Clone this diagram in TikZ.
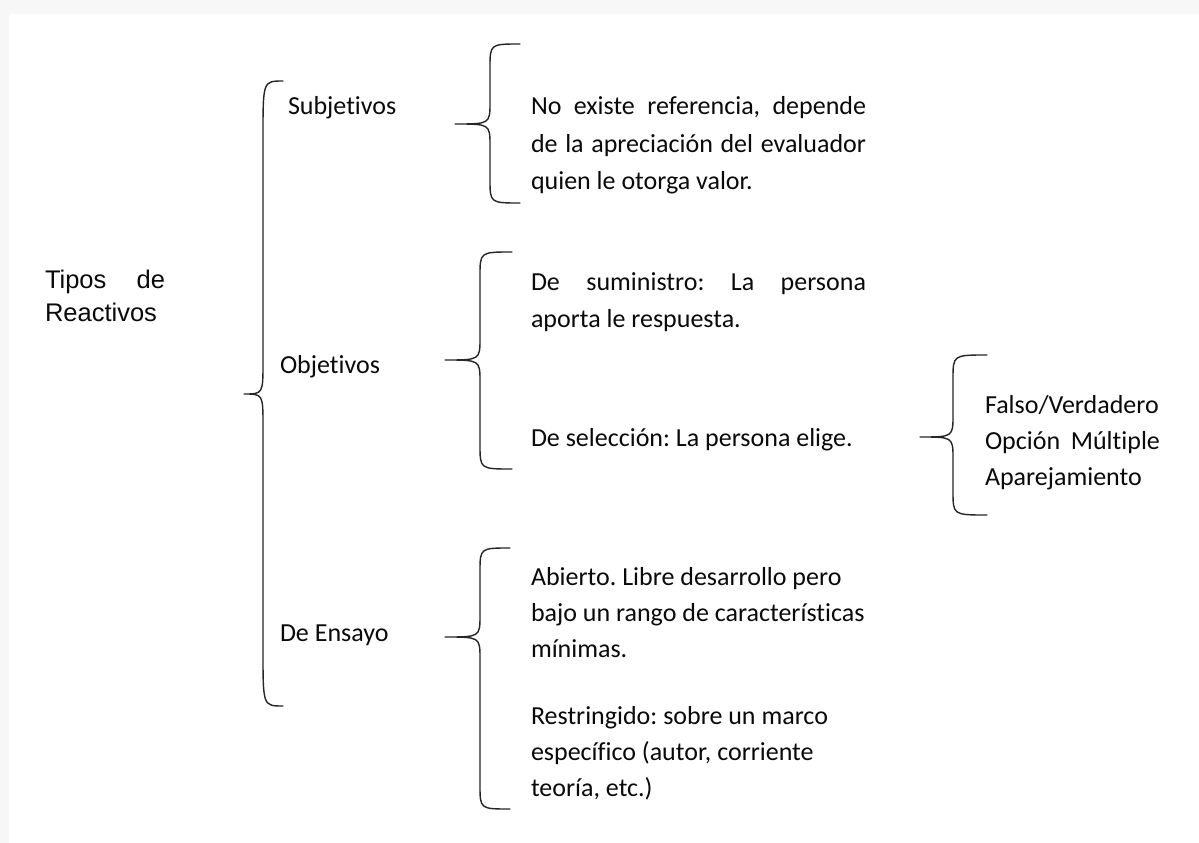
\documentclass[tikz,border=0pt]{standalone}
\usepackage{fontspec}
\setmainfont{Carlito}[Ligatures={NoCommon,NoContextual}]
\newfontfamily\arialfont{Liberation Sans}
\frenchspacing
\usetikzlibrary{calc}
\definecolor{pagegray}{HTML}{F7F7F7}
\definecolor{inkcol}{HTML}{0A0A0A}
\definecolor{bracecol}{HTML}{262626}
\tikzset{
  txt/.style={anchor=base west, inner sep=0pt, outer sep=0pt, text=inkcol,
    font=\fontsize{26}{30}\selectfont},
  arialtxt/.style={txt, font=\arialfont\fontsize{25.5}{30}\selectfont},
  bracestyle/.style={draw=bracecol, line width=1.4pt, line cap=round, line join=round}
}
% #1 name, #2 x tip, #3 x vertical, #4 x ends, #5 y top, #6 y tip, #7 y bottom, #8 end radius, #9 tip radius
\newcommand\mybrace[9]{%
  \coordinate (#1-top) at (#4,#5);
  \coordinate (#1-tip) at (#2,#6);
  \coordinate (#1-bot) at (#4,#7);
  \draw[bracestyle] (#1-top) .. controls (#3,#5) .. (#3,#5+#8)
     -- (#3,#6-#9) .. controls (#3,#6) .. (#1-tip)
     .. controls (#3,#6) .. (#3,#6+#9)
     -- (#3,#7-#8) .. controls (#3,#7) .. (#1-bot);
}
\begin{document}
\begin{tikzpicture}[x=1pt,y=-1pt]
\fill[pagegray] (0,0) rectangle (1199,843);
\fill[white] (9,14) rectangle (1199,843);
\useasboundingbox (0,0) rectangle (1199,843);

% root
\node[arialtxt] (tipos) at (45,288) {\makebox[120pt][s]{Tipos de}};
\node[arialtxt] (reactivos) at (45,321) {Reactivos};

% main brace
\mybrace{b1}{244}{263}{283}{81}{394}{706}{55}{32}

\node[txt] (subj) at (288,114) {Subjetivos};
\node[txt] (obj) at (280,373) {Objetivos};
\node[txt] (ens) at (280,641) {De Ensayo};

% Subjetivos
\mybrace{b2}{455}{490}{520}{44}{124}{203}{24}{22}
\node[txt] (s1) at (531,114) {\makebox[335pt][s]{No existe referencia, depende}};
\node[txt] (s2) at (531,152) {\makebox[335pt][s]{de la apreciación del evaluador}};
\node[txt] (s3) at (531,189) {quien le otorga valor.};

% Objetivos
\mybrace{b3}{445}{480}{512}{252}{360}{469}{24}{22}
\node[txt] (o1) at (531,290) {\makebox[335pt][s]{De suministro: La persona}};
\node[txt] (o2) at (531,327) {aporta le respuesta.};
\node[txt] (o3) at (531,446) {De selección: La persona elige.};

% Selección options
\mybrace{b5}{920}{953}{987}{355}{437}{515}{24}{22}
\node[txt] (f1) at (985,413) {Falso/Verdadero};
\node[txt] (f2) at (985,449) {\makebox[175pt][s]{Opción Múltiple}};
\node[txt] (f3) at (985,485) {Aparejamiento};

% Ensayo
\mybrace{b4}{445}{480}{510}{548}{637}{809}{24}{22}
\node[txt] (e1) at (531,585) {Abierto. Libre desarrollo pero};
\node[txt] (e2) at (531,621) {bajo un rango de características};
\node[txt] (e3) at (531,657) {mínimas.};
\node[txt] (e4) at (531,724) {Restringido: sobre un marco};
\node[txt] (e5) at (531,760) {específico (autor, corriente};
\node[txt] (e6) at (531,796) {teoría, etc.)};
\end{tikzpicture}
\end{document}
